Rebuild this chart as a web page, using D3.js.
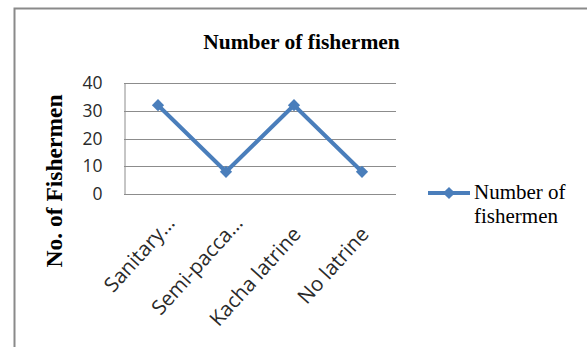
<!DOCTYPE html>
<html>
<head>
<meta charset="utf-8">
<script src="https://cdn.jsdelivr.net/npm/d3@7"></script>
<style>
  html, body { margin: 0; padding: 0; background: #fff; }
  svg { display: block; }
</style>
</head>
<body>
<div id="chart"></div>
<script>
const categories = ["Sanitary…", "Semi-pacca…", "Kacha latrine", "No latrine"];
const values = [32, 8, 32, 8];
const yTicks = [0, 10, 20, 30, 40];
const chartTitle = "Number of fishermen";
const yAxisTitle = "No. of Fishermen";
const seriesName = ["Number of", "fishermen"];

const W = 587, H = 347;
const plot = { left: 124, right: 396, top: 83, bottom: 194 };
const blue = "#4A7EBB";
const grid = "#8C8C8C";

const svg = d3.select("#chart").append("svg")
  .attr("width", W).attr("height", H);

// outer frame (extends past the picture on right and bottom)
svg.append("rect")
  .attr("x", 14.5).attr("y", 8.5)
  .attr("width", 700).attr("height", 500)
  .attr("fill", "#fff").attr("stroke", "#8a8a8a").attr("stroke-width", 2);

const x = d3.scalePoint().domain(categories)
  .range([plot.left, plot.right]).padding(0.5);
const y = d3.scaleLinear().domain([0, 40]).range([plot.bottom, plot.top]);

// gridlines
svg.append("g").selectAll("line").data(yTicks.filter(t => t > 0)).join("line")
  .attr("x1", plot.left).attr("x2", plot.right)
  .attr("y1", d => Math.round(y(d)) + 0.5).attr("y2", d => Math.round(y(d)) + 0.5)
  .attr("stroke", grid).attr("stroke-width", 1);

// y axis
const yAxis = d3.axisLeft(y).tickValues(yTicks).tickSize(0).tickPadding(22)
  .tickFormat(d3.format("d"));
const gy = svg.append("g").attr("transform", `translate(${plot.left + 0.5},0)`).call(yAxis);
gy.select(".domain").attr("stroke", grid);
gy.selectAll("text")
  .attr("font-family", "'Open Sans', sans-serif").attr("font-size", 17.5)
  .attr("fill", "#2a2a2a");

// x axis line
const xAxis = d3.axisBottom(x).tickSize(0).tickFormat("");
const gx = svg.append("g").attr("transform", `translate(0,${plot.bottom + 0.5})`).call(xAxis);
gx.select(".domain").attr("stroke", grid).attr("d", `M${plot.left},0H${plot.right}`);

// category labels, rotated
svg.append("g").selectAll("text").data(categories).join("text")
  .attr("transform", d => `translate(${x(d) + 8},235) rotate(-48)`)
  .attr("dx", d => d.endsWith("…") ? 15 : 0)
  .attr("text-anchor", "end")
  .attr("font-family", "'Open Sans', sans-serif").attr("font-size", 20.5)
  .attr("fill", "#2a2a2a")
  .text(d => d);

// line + markers
const line = d3.line().x((d, i) => x(categories[i])).y(d => y(d));
svg.append("path").datum(values)
  .attr("d", line).attr("fill", "none")
  .attr("stroke", blue).attr("stroke-width", 4).attr("stroke-linejoin", "round");

const diamond = d3.symbol().type(d3.symbolDiamond2).size(95);
svg.append("g").selectAll("path").data(values).join("path")
  .attr("transform", (d, i) => `translate(${x(categories[i])},${y(d)})`)
  .attr("d", diamond).attr("fill", blue);

// chart title
svg.append("text")
  .attr("x", 301.5).attr("y", 49)
  .attr("text-anchor", "middle")
  .attr("font-family", "'Liberation Serif', 'Times New Roman', serif")
  .attr("font-weight", "bold").attr("font-size", 21.5)
  .attr("fill", "#000")
  .text(chartTitle);

// y axis title
svg.append("text")
  .attr("transform", "translate(62,181) rotate(-90)")
  .attr("text-anchor", "middle")
  .attr("font-family", "'Liberation Serif', 'Times New Roman', serif")
  .attr("font-weight", "bold").attr("font-size", 23.5)
  .attr("fill", "#000")
  .text(yAxisTitle);

// legend
const lg = svg.append("g");
lg.append("line").attr("x1", 428).attr("x2", 470).attr("y1", 193).attr("y2", 193)
  .attr("stroke", blue).attr("stroke-width", 4);
lg.append("path").attr("transform", "translate(449,193)")
  .attr("d", diamond).attr("fill", blue);
lg.selectAll("text").data(seriesName).join("text")
  .attr("x", 474).attr("y", (d, i) => 199 + i * 24)
  .attr("font-family", "'Liberation Serif', 'Times New Roman', serif")
  .attr("font-size", 21).attr("fill", "#000")
  .text(d => d);
</script>
</body>
</html>
